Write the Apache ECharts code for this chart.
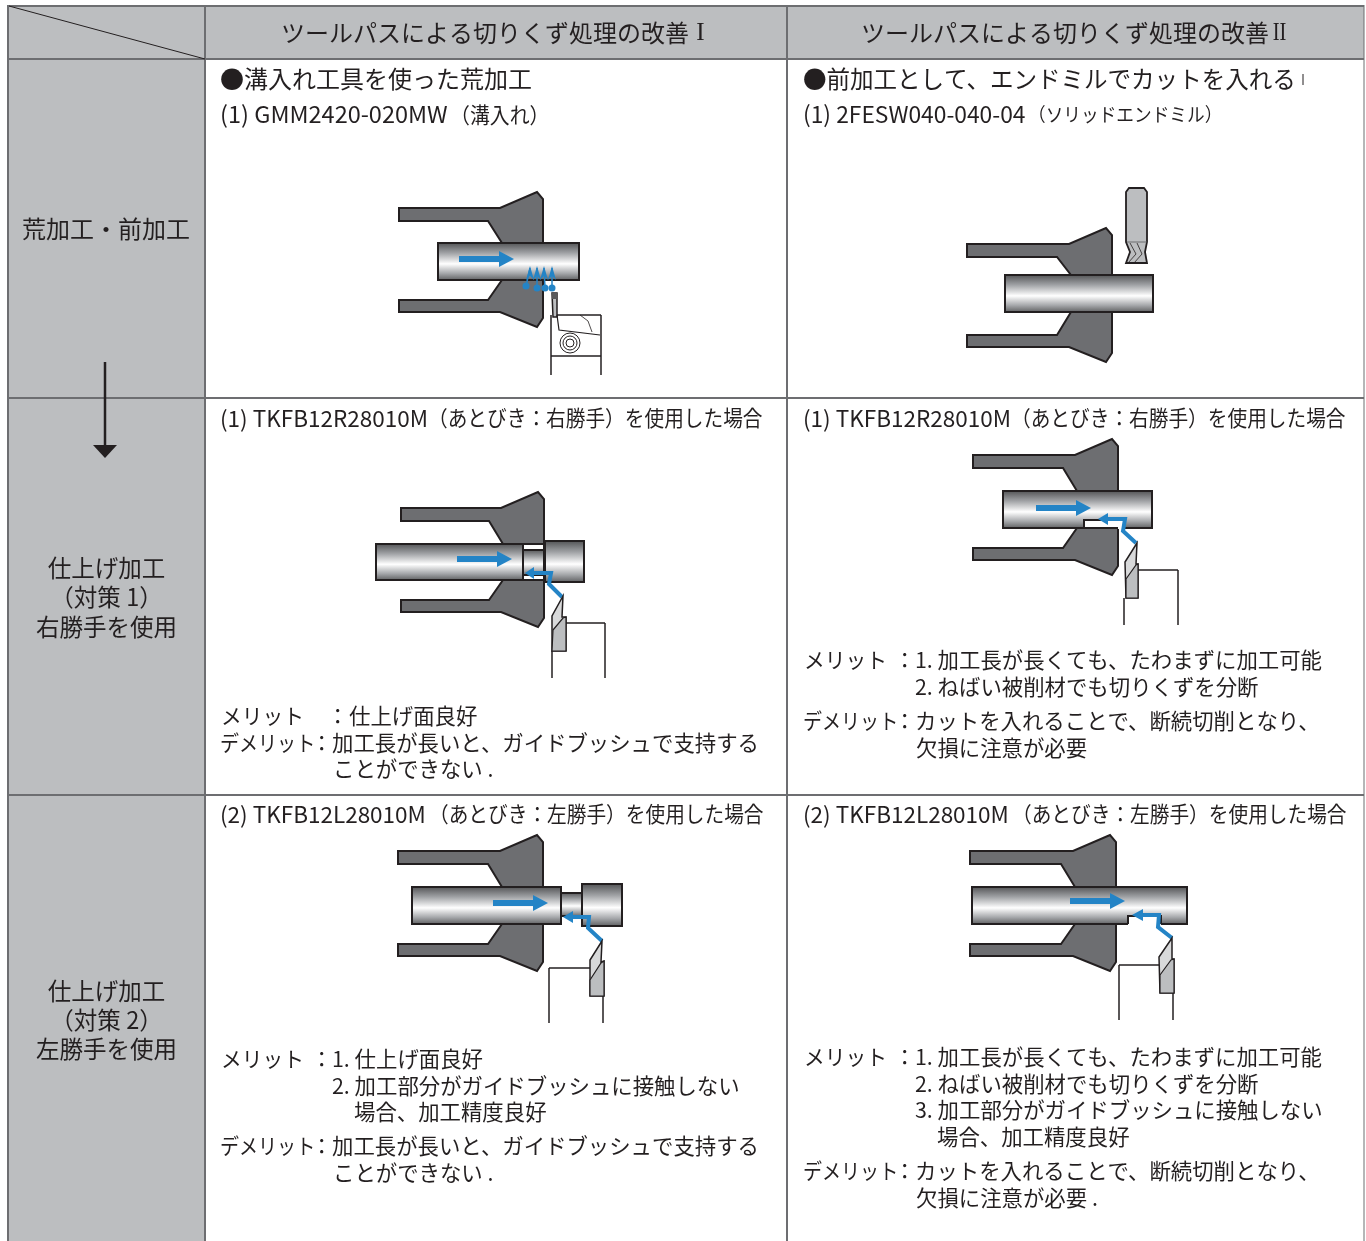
<!DOCTYPE html>
<html>
<head>
<meta charset="utf-8">
<style>html,body{margin:0;padding:0;background:#fff}#main{width:1366px;height:1241px}</style>
<script src="https://cdn.jsdelivr.net/npm/echarts@6/dist/echarts.min.js"></script>
</head>
<body>
<div id="main"></div>
<script>
// table text
const headerLabels = ['ツールパスによる切りくず処理の改善', 'ツールパスによる切りくず処理の改善'];
const headerNumerals = ['I', 'II'];
const rowRough = ['荒加工・前加工'];
const rowRight = ['仕上げ加工', '（対策 1）', '右勝手を使用'];
const rowLeft = ['仕上げ加工', '（対策 2）', '左勝手を使用'];
const roughA = ['●溝入れ工具を使った荒加工', '(1) GMM2420-020MW', '（溝入れ）'];
const roughB = ['●前加工として、エンドミルでカットを入れる', '(1) 2FESW040-040-04', '（ソリッドエンドミル）'];
const toolRight = ['(1) TKFB12R28010M', '（あとびき：右勝手）を使用した場合'];
const toolLeft = ['(2) TKFB12L28010M', '（あとびき：左勝手）を使用した場合'];
const merit = 'メリット';
const demerit = 'デメリット';
const colon = '：';
const cutNotes = ['1. 加工長が長くても、たわまずに加工可能', '2. ねばい被削材でも切りくずを分断'];
const cutDemerit = ['カットを入れることで、断続切削となり、', '欠損に注意が必要'];
const guideDemerit = ['加工長が長いと、ガイドブッシュで支持する', 'ことができない .'];
const contactNotes = ['加工部分がガイドブッシュに接触しない', '場合、加工精度良好'];

const INK = '#231f20', GRID = '#6d6e71', HEAD = '#bcbec0', BLUE = '#2484c6';
const FONT = '"Noto Sans CJK JP", "Noto Sans", sans-serif';
const BODY = 21.4;
const els = [];

function text(str, x, y, size, align, sx, family) {
  els.push({ type: 'text', z: 20, x: x, y: y, scaleX: sx || 1, style: { text: str, fontSize: size, fontFamily: family || FONT, fill: '#231f20',
    textAlign: align || 'left', textVerticalAlign: 'middle' } });
}
function poly(points, fill, stroke, lw, closed) {
  els.push({ type: closed === false ? 'polyline' : 'polygon', z: 10, shape: { points: points },
    style: { fill: fill || 'none', stroke: stroke || 'none', lineWidth: lw || 0, lineJoin: 'miter' } });
}
function rect(x, y, w, h, fill, stroke, lw) {
  els.push({ type: 'rect', z: 10, shape: { x: x, y: y, width: w, height: h },
    style: { fill: fill, stroke: stroke || 'none', lineWidth: lw || 0 } });
}
function line(x1, y1, x2, y2, color, lw) {
  els.push({ type: 'line', z: 12, shape: { x1: x1, y1: y1, x2: x2, y2: y2 }, style: { stroke: color, lineWidth: lw } });
}
function circle(x, y, r, fill, stroke, lw) {
  els.push({ type: 'circle', z: 13, shape: { cx: x, cy: y, r: r }, style: { fill: fill, stroke: stroke || 'none', lineWidth: lw || 0 } });
}
const steel = () => new echarts.graphic.LinearGradient(0, 0, 0, 1, [
  { offset: 0, color: '#4d4e50' }, { offset: 0.28, color: '#a0a2a5' }, { offset: 0.56, color: '#ffffff' },
  { offset: 0.8, color: '#a7a9ac' }, { offset: 1, color: '#58595b' }
]);
function bar(x1, y1, x2, y2) {
  rect(x1, y1, x2 - x1, y2 - y1, steel(), INK, 2);
}
function bush(l, xr, top, bottom, barTop, barBot) {
  poly([[l, top + 16], [xr - 43, top + 16], [xr - 6, top], [xr, top + 7], [xr, barTop], [xr - 41, barTop], [xr - 55, top + 29], [l, top + 29]], '#6d6e71', INK, 2);
  poly([[l, bottom - 27], [xr - 55, bottom - 27], [xr - 41, barBot], [xr, barBot], [xr, bottom - 9], [xr - 6, bottom], [xr - 43, bottom - 15], [l, bottom - 15]], '#6d6e71', INK, 2);
}
function feedArrow(x1, x2, tip, y) {
  rect(x1, y - 3, x2 - x1, 6, BLUE);
  poly([[x2, y - 8], [tip, y], [x2, y + 8]], BLUE);
}
function chipPath(points, tip, base) {
  poly(points, null, BLUE, 4, false);
  const y = points[points.length - 1][1];
  poly([[base, y - 6], [tip, y], [base, y + 6]], BLUE);
}
function insert(pts, a, b) {
  // pts: tip, left shoulder, left bottom, right bottom, right shoulder, notch
  poly(pts, '#d8d9da', INK, 1.5);
  poly([a, b, pts[4], pts[3], pts[2]], HEAD, INK, 1.2);
}

function draw() {
  // table fills
  rect(8, 6, 1356, 53, HEAD);
  rect(8, 59, 197, 1182, HEAD);
  // grid
  line(8, 6, 1364, 6, GRID, 2);
  line(8, 59, 1364, 59, GRID, 2);
  line(8, 398, 1364, 398, GRID, 2);
  line(8, 795, 1364, 795, GRID, 2);
  line(8, 5, 8, 1241, GRID, 2);
  line(205, 6, 205, 1241, GRID, 2);
  line(787, 6, 787, 1241, GRID, 2);
  line(1364, 5, 1364, 1241, GRID, 1);
  line(9, 6, 205, 59, INK, 1);

  // header and row labels
  text(headerLabels[0], 281, 33, 24);
  text(headerNumerals[0], 700.5, 33, 25, 'center', 1, '"Liberation Serif"');
  text(headerLabels[1], 861, 33, 24);
  text(headerNumerals[1], 1279.5, 33, 25, 'center', 0.82, '"Liberation Serif"');
  text(rowRough[0], 106, 229, 24, 'center');
  [568, 597, 627].forEach((y, i) => text(rowRight[i], 106.5, y, 24, 'center', 0.98));
  [991, 1020, 1049].forEach((y, i) => text(rowLeft[i], 106.5, y, 24, 'center', 0.98));
  line(105, 362, 105, 446, INK, 2.5);
  poly([[93, 445], [117, 445], [105, 458]], INK);

  // row 1 text
  text(roughA[0], 220, 79, 24);
  text(roughA[1], 220, 114, 23.5);
  text(roughA[2], 450, 115, BODY, 'left', 0.93);
  text(roughB[0], 803, 79, 24, 'left', 0.98);
  line(1303, 74, 1303, 85, INK, 1);
  text(roughB[1], 803, 114, 22.8);
  text(roughB[2], 1028, 115, 19, 'left', 0.93);

  // row 2 text
  text(toolRight[0], 220, 418, 22.5);
  text(toolRight[1], 428, 418, BODY, 'left', 0.92);
  text(toolRight[0], 803, 418, 22.5);
  text(toolRight[1], 1011, 418, BODY, 'left', 0.92);
  text(merit, 221, 716, BODY, 'left', 0.97);
  text(colon, 327, 716, BODY);
  text('仕上げ面良好', 349, 716, BODY);
  text(demerit, 220, 743, BODY, 'left', 0.89);
  text(colon, 311, 743, BODY);
  text(guideDemerit[0], 332, 743, BODY);
  text(guideDemerit[1], 333, 769, BODY);
  text(merit, 804, 660, BODY, 'left', 0.97);
  text(colon, 894, 660, BODY);
  text(cutNotes[0], 915, 660, BODY);
  text(cutNotes[1], 915, 687, BODY);
  text(demerit, 803, 721, BODY, 'left', 0.89);
  text(colon, 894, 721, BODY);
  text(cutDemerit[0], 915, 721, BODY);
  text(cutDemerit[1], 916, 748, BODY);

  // row 3 text
  text(toolLeft[0], 220, 814, 22.5);
  text(toolLeft[1], 429, 814, BODY, 'left', 0.92);
  text(toolLeft[0], 803, 814, 22.5);
  text(toolLeft[1], 1012, 814, BODY, 'left', 0.92);
  text(merit, 221, 1059, BODY, 'left', 0.97);
  text(colon, 311, 1059, BODY);
  text('1. 仕上げ面良好', 332, 1059, BODY);
  text('2. ' + contactNotes[0], 332, 1086, BODY);
  text(contactNotes[1], 354, 1112, BODY);
  text(demerit, 220, 1146, BODY, 'left', 0.89);
  text(colon, 311, 1146, BODY);
  text(guideDemerit[0], 332, 1146, BODY);
  text(guideDemerit[1], 333, 1173, BODY);
  text(merit, 804, 1057, BODY, 'left', 0.97);
  text(colon, 894, 1057, BODY);
  text(cutNotes[0], 915, 1057, BODY);
  text(cutNotes[1], 915, 1084, BODY);
  text('3. ' + contactNotes[0], 915, 1110, BODY);
  text(contactNotes[1], 937, 1137, BODY);
  text(demerit, 803, 1171, BODY, 'left', 0.89);
  text(colon, 894, 1171, BODY);
  text(cutDemerit[0], 915, 1171, BODY);
  text(cutDemerit[1] + ' .', 916, 1198, BODY);

  // groove tool, roughing
  bush(399, 543, 192, 327, 243, 280);
  bar(438, 243, 579, 280);
  feedArrow(459, 499, 514, 259);
  [[526, 286, 530], [537, 288, 537], [545, 288, 544], [552, 288, 552]].forEach(d => {
    line(d[0], d[1], d[2], 268, BLUE, 1.5);
    poly([[d[2], 266], [d[2] + 4, 280], [d[2], 276], [d[2] - 4, 280]], BLUE);
    circle(d[0], d[1], 3.5, BLUE);
  });
  poly([[552, 293], [557, 293], [557, 317], [553, 317]], HEAD, INK, 1.5);
  rect(552, 293, 5, 6, '#58595b');
  line(551, 315, 551, 375, INK, 1.5);
  line(601, 315, 601, 375, INK, 1.5);
  line(557, 315, 601, 315, INK, 1.5);
  line(551, 356, 601, 356, INK, 1.5);
  poly([[557, 315], [559, 330], [600, 335]], null, INK, 1.2, false);
  poly([[580, 315], [588, 321], [592, 332]], null, INK, 0.8, false);
  circle(570, 343, 10, '#fff', INK, 1);
  circle(570, 343, 7, '#fff', INK, 1);
  circle(570, 343, 4, '#fff', INK, 1);

  // end mill, pre-cut
  bush(967, 1112, 228, 362, 275, 312);
  bar(1005, 275, 1153, 312);
  poly([[1129, 188], [1144, 188], [1147, 192], [1147, 242], [1145, 252], [1147, 263], [1126, 263], [1130, 252], [1126, 242], [1126, 192]], HEAD, INK, 1.8);
  line(1127, 242, 1147, 242, '#58595b', 0.8);
  poly([[1130, 243], [1136, 254], [1128, 263]], null, INK, 0.8, false);
  poly([[1137, 243], [1142, 254], [1134, 263]], null, INK, 0.8, false);

  // right hand, plan I
  bush(401, 544, 492, 627, 544, 580);
  rect(523, 544, 21, 36, '#fff', INK, 2);
  bar(523, 550, 544, 575);
  bar(376, 544, 523, 580);
  bar(545, 541, 584, 582);
  feedArrow(457, 497, 512, 559);
  chipPath([[562, 597], [549, 584], [551, 573], [533, 573]], 525, 534);
  insert([[563, 596], [552, 616], [552, 651], [566, 651], [566, 617], [562, 617]], [553, 630], [563, 618]);
  line(552, 651, 552, 678, INK, 1.5);
  line(566, 623, 605, 623, INK, 1.5);
  line(605, 623, 605, 678, INK, 1.5);

  // right hand, plan II
  bush(973, 1118, 439, 575, 491, 528);
  bar(1003, 491, 1152, 528);
  rect(1084, 520, 39, 9, '#fff');
  poly([[1084, 528], [1084, 520], [1123, 520]], null, INK, 2, false);
  line(1084, 528, 1118, 528, INK, 2);
  feedArrow(1036, 1076, 1091, 508);
  chipPath([[1136, 543], [1123, 531], [1125, 519], [1107, 519]], 1098, 1108);
  insert([[1137, 543], [1125, 562], [1126, 598], [1138, 598], [1138, 564], [1136, 564]], [1126, 579], [1136, 565]);
  line(1124, 598, 1124, 625, INK, 1.5);
  line(1138, 570, 1178, 570, INK, 1.5);
  line(1178, 570, 1178, 625, INK, 1.5);

  // left hand, plan I
  bush(398, 543, 835, 971, 887, 924);
  bar(561, 893, 582, 916);
  bar(412, 887, 561, 924);
  bar(582, 884, 622, 926);
  feedArrow(493, 533, 548, 903);
  chipPath([[602, 941], [588, 928], [589, 917], [572, 917]], 563, 573);
  insert([[602, 941], [590, 960], [590, 996], [604, 996], [604, 961], [601, 962]], [590, 980], [601, 963]);
  line(549, 968, 549, 1023, INK, 1.5);
  line(549, 968, 590, 968, INK, 1.5);
  line(603, 996, 603, 1023, INK, 1.5);

  // left hand, plan II
  bush(970, 1116, 835, 971, 887, 924);
  bar(972, 887, 1187, 924);
  rect(1128, 916, 33, 9, '#fff');
  poly([[1128, 924], [1128, 916], [1161, 916], [1161, 924]], null, INK, 2, false);
  feedArrow(1070, 1110, 1125, 901);
  chipPath([[1172, 938], [1158, 927], [1159, 915], [1143, 915]], 1132, 1143);
  insert([[1172, 938], [1159, 957], [1160, 993], [1174, 993], [1174, 959], [1172, 959]], [1160, 975], [1171, 960]);
  line(1119, 965, 1119, 1020, INK, 1.5);
  line(1119, 965, 1159, 965, INK, 1.5);
  line(1173, 993, 1173, 1020, INK, 1.5);
}

draw();
const chart = echarts.init(document.getElementById('main'));
chart.setOption({ animation: false, graphic: { elements: els } });
</script>
</body>
</html>
